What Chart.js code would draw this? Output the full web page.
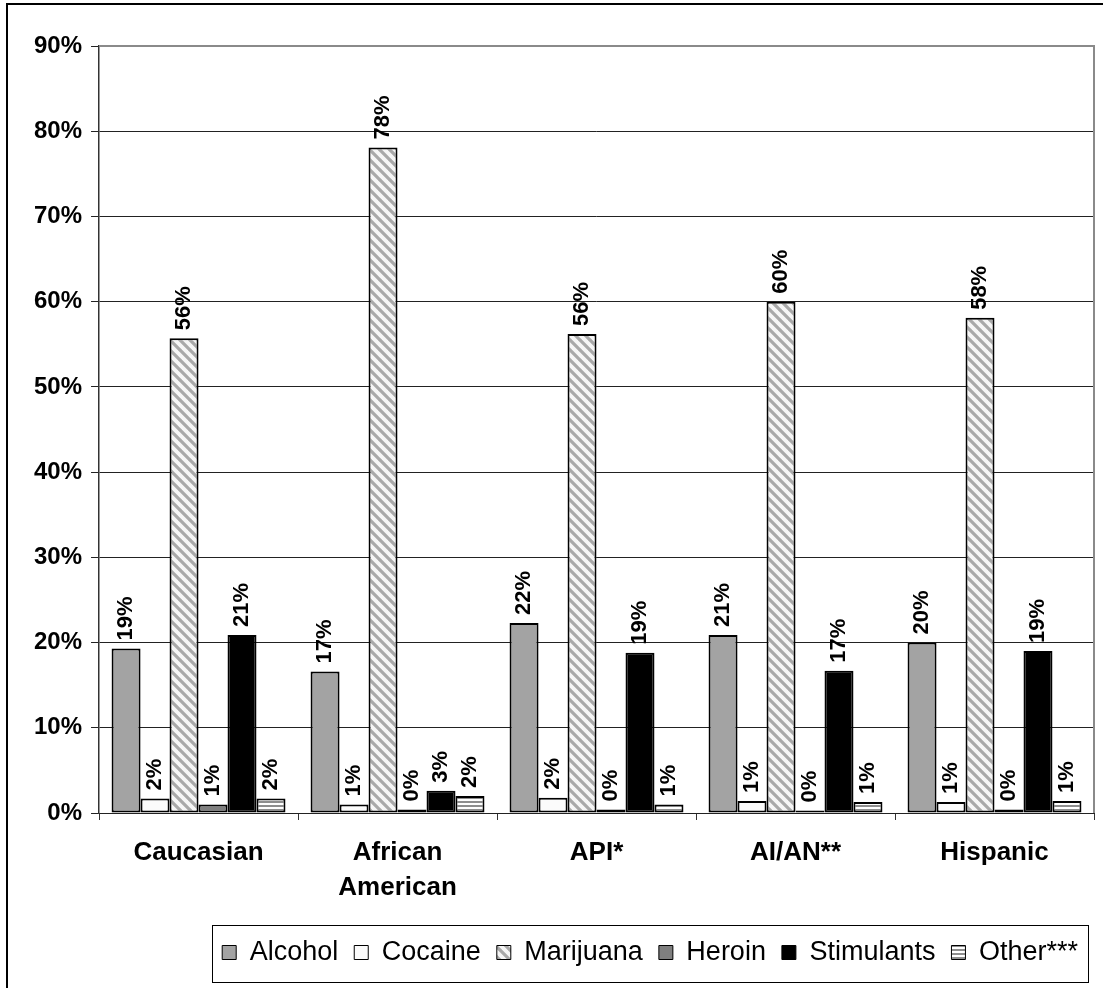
<!DOCTYPE html>
<html>
<head>
<meta charset="utf-8">
<script src="https://cdn.jsdelivr.net/npm/chart.js@4.4.1/dist/chart.umd.min.js"></script>
<style>
  html, body { margin: 0; padding: 0; background: #fff; }
  #wrap { width: 1103px; height: 988px; }
</style>
</head>
<body>
<div id="wrap"><canvas id="c" width="1103" height="988"></canvas></div>
<script>
// Primary drug at admission, share of admissions by race/ethnicity (%)
const categories = ['Caucasian', ['African', 'American'], 'API*', 'AI/AN**', 'Hispanic'];
const seriesNames = ['Alcohol', 'Cocaine', 'Marijuana', 'Heroin', 'Stimulants', 'Other***'];

const alcohol    = [19.3, 16.6, 22.3, 20.9, 20.0];
const cocaine    = [1.7, 1.0, 1.8, 1.4, 1.3];
const marijuana  = [55.7, 78.1, 56.2, 60.0, 58.1];
const heroin     = [1.0, 0.4, 0.4, 0.3, 0.4];
const stimulants = [20.9, 2.6, 18.8, 16.7, 19.0];
const other      = [1.7, 2.0, 1.0, 1.3, 1.4];

const yTickLabels = ['0%', '10%', '20%', '30%', '40%', '50%', '60%', '70%', '80%', '90%'];

const FONT = '"Liberation Sans", Arial, sans-serif';

// Diagonal "\" hatch used for marijuana
function diagonalPattern() {
  const s = 10;
  const c = document.createElement('canvas');
  c.width = s; c.height = s;
  const g = c.getContext('2d');
  g.fillStyle = '#f6f6f6';
  g.fillRect(0, 0, s, s);
  g.strokeStyle = '#a9a9a9';
  g.lineWidth = 3.2;
  g.beginPath();
  for (let k = -s; k <= s; k += s) {
    g.moveTo(k - 1, -1);
    g.lineTo(k + s + 1, s + 1);
  }
  g.stroke();
  return g.createPattern(c, 'repeat');
}

// Horizontal line fill used for "other"
function horizontalPattern() {
  const c = document.createElement('canvas');
  c.width = 4; c.height = 4;
  const g = c.getContext('2d');
  g.fillStyle = '#ffffff';
  g.fillRect(0, 0, 4, 4);
  g.fillStyle = '#8e8e8e';
  g.fillRect(0, 1, 4, 2);
  return g.createPattern(c, 'repeat');
}

const fills = ['#a3a3a3', '#fbfbfb', diagonalPattern(), '#7f7f7f', '#000000', horizontalPattern()];
const seriesData = [alcohol, cocaine, marijuana, heroin, stimulants, other];

const datasets = seriesNames.map((name, i) => ({
  label: name,
  data: seriesData[i],
  backgroundColor: fills[i],
  borderColor: '#000',
  borderWidth: 2,
  borderSkipped: false,
  categoryPercentage: 0.874,
  barPercentage: 1.0
}));

// Rotated value labels above every bar
const valueLabels = {
  id: 'valueLabels',
  afterDatasetsDraw(chart) {
    const ctx = chart.ctx;
    ctx.save();
    ctx.font = 'bold 22px ' + FONT;
    ctx.fillStyle = '#000';
    ctx.textAlign = 'left';
    ctx.textBaseline = 'middle';
    chart.data.datasets.forEach((ds, i) => {
      chart.getDatasetMeta(i).data.forEach((bar, j) => {
        ctx.save();
        ctx.translate(bar.x, bar.y - 8);
        ctx.rotate(-Math.PI / 2);
        ctx.fillText(Math.round(ds.data[j]) + '%', 0, 0);
        ctx.restore();
      });
    });
    ctx.restore();
  }
};

// Plot frame (grey top/right edges), outer border and legend box
const frame = {
  id: 'frame',
  beforeDatasetsDraw(chart) {
    const { ctx, chartArea: a } = chart;
    ctx.save();
    ctx.strokeStyle = '#8a8a8a';
    ctx.lineWidth = 2;
    ctx.beginPath();
    ctx.moveTo(a.left, a.top);
    ctx.lineTo(a.right, a.top);
    ctx.lineTo(a.right, a.bottom);
    ctx.stroke();
    ctx.restore();
  },
  afterDraw(chart) {
    const ctx = chart.ctx;
    ctx.save();
    ctx.strokeStyle = '#000';
    ctx.lineWidth = 2;
    ctx.beginPath();
    ctx.moveTo(7, 988);
    ctx.lineTo(7, 4);
    ctx.lineTo(1103, 4);
    ctx.stroke();

    const boxes = chart.legend.legendHitBoxes;
    if (boxes && boxes.length) {
      const l = Math.min(...boxes.map(b => b.left)) - 10;
      const r = Math.max(...boxes.map(b => b.left + b.width)) + 10;
      const cy = boxes[0].top + boxes[0].height / 2;
      ctx.lineWidth = 1;
      ctx.strokeStyle = '#000';
      ctx.strokeRect(Math.round(l) + 0.5, Math.round(cy - 28) + 0.5, Math.round(r - l), 57);
    }
    ctx.restore();
  }
};

new Chart(document.getElementById('c'), {
  type: 'bar',
  data: { labels: categories, datasets },
  plugins: [frame, valueLabels],
  options: {
    responsive: false,
    animation: false,
    devicePixelRatio: 1,
    layout: { padding: { left: 25, top: 46, right: 9, bottom: 12 } },
    scales: {
      x: {
        grid: {
          offset: true,
          drawOnChartArea: false,
          drawTicks: true,
          tickLength: 7,
          color: '#333'
        },
        border: { color: '#222', width: 1 },
        ticks: {
          color: '#000',
          padding: 16,
          maxRotation: 0,
          autoSkip: false,
          font: { family: FONT, size: 26, weight: 'bold', lineHeight: 1.32 }
        },
        afterFit(scale) { scale.height = 110; }
      },
      y: {
        min: 0,
        max: 90,
        grid: {
          color: '#222',
          lineWidth: 1,
          tickLength: 8
        },
        border: { color: '#333', width: 1.5 },
        ticks: {
          stepSize: 10,
          color: '#000',
          padding: 9,
          font: { family: FONT, size: 24, weight: 'bold' },
          callback: (v) => yTickLabels[Math.round(v / 10)]
        }
      }
    },
    plugins: {
      tooltip: { enabled: false },
      legend: {
        position: 'bottom',
        align: 'end',
        labels: {
          color: '#000',
          boxWidth: 14,
          boxHeight: 14,
          padding: 16,
          font: { family: FONT, size: 27 },
          generateLabels(chart) {
            return Chart.defaults.plugins.legend.labels.generateLabels(chart)
              .map(item => Object.assign(item, { lineWidth: 1 }));
          }
        }
      }
    }
  }
});
</script>
</body>
</html>
